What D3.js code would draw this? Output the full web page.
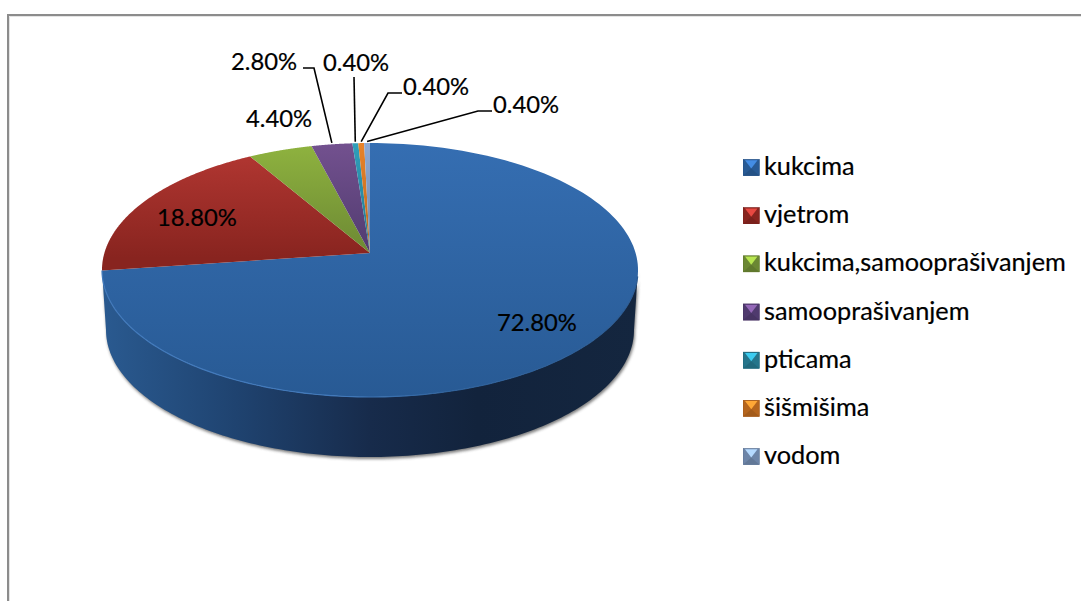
<!DOCTYPE html>
<html><head><meta charset="utf-8">
<script src="https://cdn.jsdelivr.net/npm/d3@7"></script>
<style>html,body{margin:0;padding:0;background:#fff;overflow:hidden}svg{display:block}text{font-family:Lato,"Open Sans",sans-serif;fill:#000;stroke:#000;stroke-width:.2px}</style>
</head><body><div id="c"></div>
<script>
const categories=["kukcima","vjetrom","kukcima,samooprašivanjem","samooprašivanjem","pticama","šišmišima","vodom"];
const values=[72.8,18.8,4.4,2.8,0.4,0.4,0.4];
const topColors=["#356eb2","#b53833","#8fb33f","#73518f","#2f9fbb","#e8832a","#8daad6"];
const lowColors=["#285a94","#88241f","#6b8733","#4f3a6e","#25758b","#b5651d","#6d85a8"];
const W=1081,H=601;
const svg=d3.select("#c").append("svg").attr("width",W).attr("height",H);
const defs=svg.append("defs");
// projective tilt of a circular pie
const P={x:370,y:253,R:265.6,c:124.7,k:0.134,depth:60,inset:0.985};
const project=(a,r=1)=>{const u=Math.sin(a)*r,v=Math.cos(a)*r,w=1+P.k*v;return [P.x+P.R*u/w,P.y-P.c*v/w];};
const arcPts=(a0,a1,n=160)=>d3.range(n+1).map(i=>project(a0+(a1-a0)*i/n));
const line=d3.line();
const pie=d3.pie().sort(null).value(d=>d)(values);

// gradients
topColors.forEach((c,i)=>{
  const g=defs.append("linearGradient").attr("id","top"+i).attr("gradientUnits","userSpaceOnUse")
    .attr("x1",0).attr("x2",0).attr("y1",143).attr("y2",i===0?397:258);
  g.append("stop").attr("offset",0).attr("stop-color",c);
  g.append("stop").attr("offset",1).attr("stop-color",lowColors[i]);
});
const side=defs.append("linearGradient").attr("id","side").attr("gradientUnits","userSpaceOnUse")
  .attr("x1",102).attr("x2",638).attr("y1",0).attr("y2",0);
[[0,"#2a5a90"],[0.25,"#1f4370"],[0.5,"#172b4b"],[0.7,"#12233c"],[1,"#14263f"]].forEach(s=>side.append("stop").attr("offset",s[0]).attr("stop-color",s[1]));
const rim=defs.append("linearGradient").attr("id","rim").attr("gradientUnits","userSpaceOnUse")
  .attr("x1",102).attr("x2",638).attr("y1",0).attr("y2",0);
[[0,"#4179bb"],[0.45,"#4179bb"],[0.65,"#2f629c"],[1,"#2a5a92"]].forEach(s=>rim.append("stop").attr("offset",s[0]).attr("stop-color",s[1]));
defs.append("filter").attr("id","blur").attr("x","-5%").attr("y","-5%").attr("width","110%").attr("height","110%")
  .append("feGaussianBlur").attr("stdDeviation",1.6);

// frame
svg.append("path").attr("d",`M${W},16.5H9.5V${H}`).attr("fill","none").attr("stroke","#e4e4e4").attr("stroke-width",1);
svg.append("path").attr("d",`M${W},15H8V${H}`).attr("fill","none").attr("stroke","#8c8c8c").attr("stroke-width",2);

// side wall: outline between the extreme points of the near rim, slightly inset under the bevel
const aR=Math.PI-Math.acos(P.k), aL=Math.PI+Math.acos(P.k);
const near=arcPts(aR,aL);
const lower=near.slice().reverse().map(p=>[P.x+(p[0]-P.x)*P.inset,p[1]+P.depth]);
const wall=near.concat(lower);
svg.append("path").attr("d",line(wall)+"Z").attr("fill","#444").attr("opacity",.7)
  .attr("transform","translate(1,2)").attr("filter","url(#blur)");
svg.append("path").attr("d",line(wall)+"Z").attr("fill","url(#side)");

// top slices
pie.forEach((d,i)=>{
  const pts=[[P.x,P.y]].concat(arcPts(d.startAngle,d.endAngle));
  svg.append("path").attr("d",line(pts)+"Z").attr("fill",`url(#top${i})`);
});
// bevel highlight on the near rim
svg.append("path").attr("d",line(arcPts(aR+0.05,pie[0].endAngle))).attr("fill","none")
  .attr("stroke","url(#rim)").attr("stroke-width",1.2);

// data labels
const fmt=v=>v.toFixed(2)+"%";
const labelFont=23.8;
const labelBox=[[497,331],[157,226],[246,127],[231,69.5],[323,70.5],[403,95],[493,113]];
labelBox.forEach((p,i)=>svg.append("text").attr("x",p[0]).attr("y",p[1]).attr("font-size",labelFont).text(fmt(values[i])));

// leader lines: label anchor, elbow, then onto the slice's outer edge
const leaders=[
  {i:3,a:[303,68],e:[314,68]},
  {i:4,a:[354,77],e:[354,77]},
  {i:5,a:[402,93],e:[388,93]},
  {i:6,a:[492,111],e:[478,111]}
];
leaders.forEach(l=>{
  const d=pie[l.i],m=project((d.startAngle+d.endAngle)/2,1);
  svg.append("path").attr("d",line([l.a,l.e,[m[0],m[1]-1.5]])).attr("fill","none").attr("stroke","#000").attr("stroke-width",1.6);
});

// legend
const legY=d3.scalePoint().domain(categories).range([167.5,456.5]);
const s=16.5;
categories.forEach((c,i)=>{
  const g=svg.append("g").attr("transform",`translate(743,${legY(c)-s/2})`);
  const dark=d3.color(lowColors[i]).darker(0.3), mid=lowColors[i], light=d3.color(topColors[i]).brighter(0.7);
  const cx=s/2,cy=s/2;
  g.append("rect").attr("width",s).attr("height",s).attr("fill",mid);
  g.append("path").attr("d",line([[2,1],[s-2,1],[cx,cy+1]])+"Z").attr("fill",light);
  g.append("path").attr("d",line([[0,s],[s,s],[cx,cy+1]])+"Z").attr("fill",dark);
  g.append("rect").attr("x",.25).attr("y",.25).attr("width",s-.5).attr("height",s-.5).attr("fill","none").attr("stroke",dark).attr("stroke-width",.5);
  svg.append("text").attr("x",764).attr("y",legY(c)+7.5).attr("font-size",25.3).text(c);
});
</script></body></html>
